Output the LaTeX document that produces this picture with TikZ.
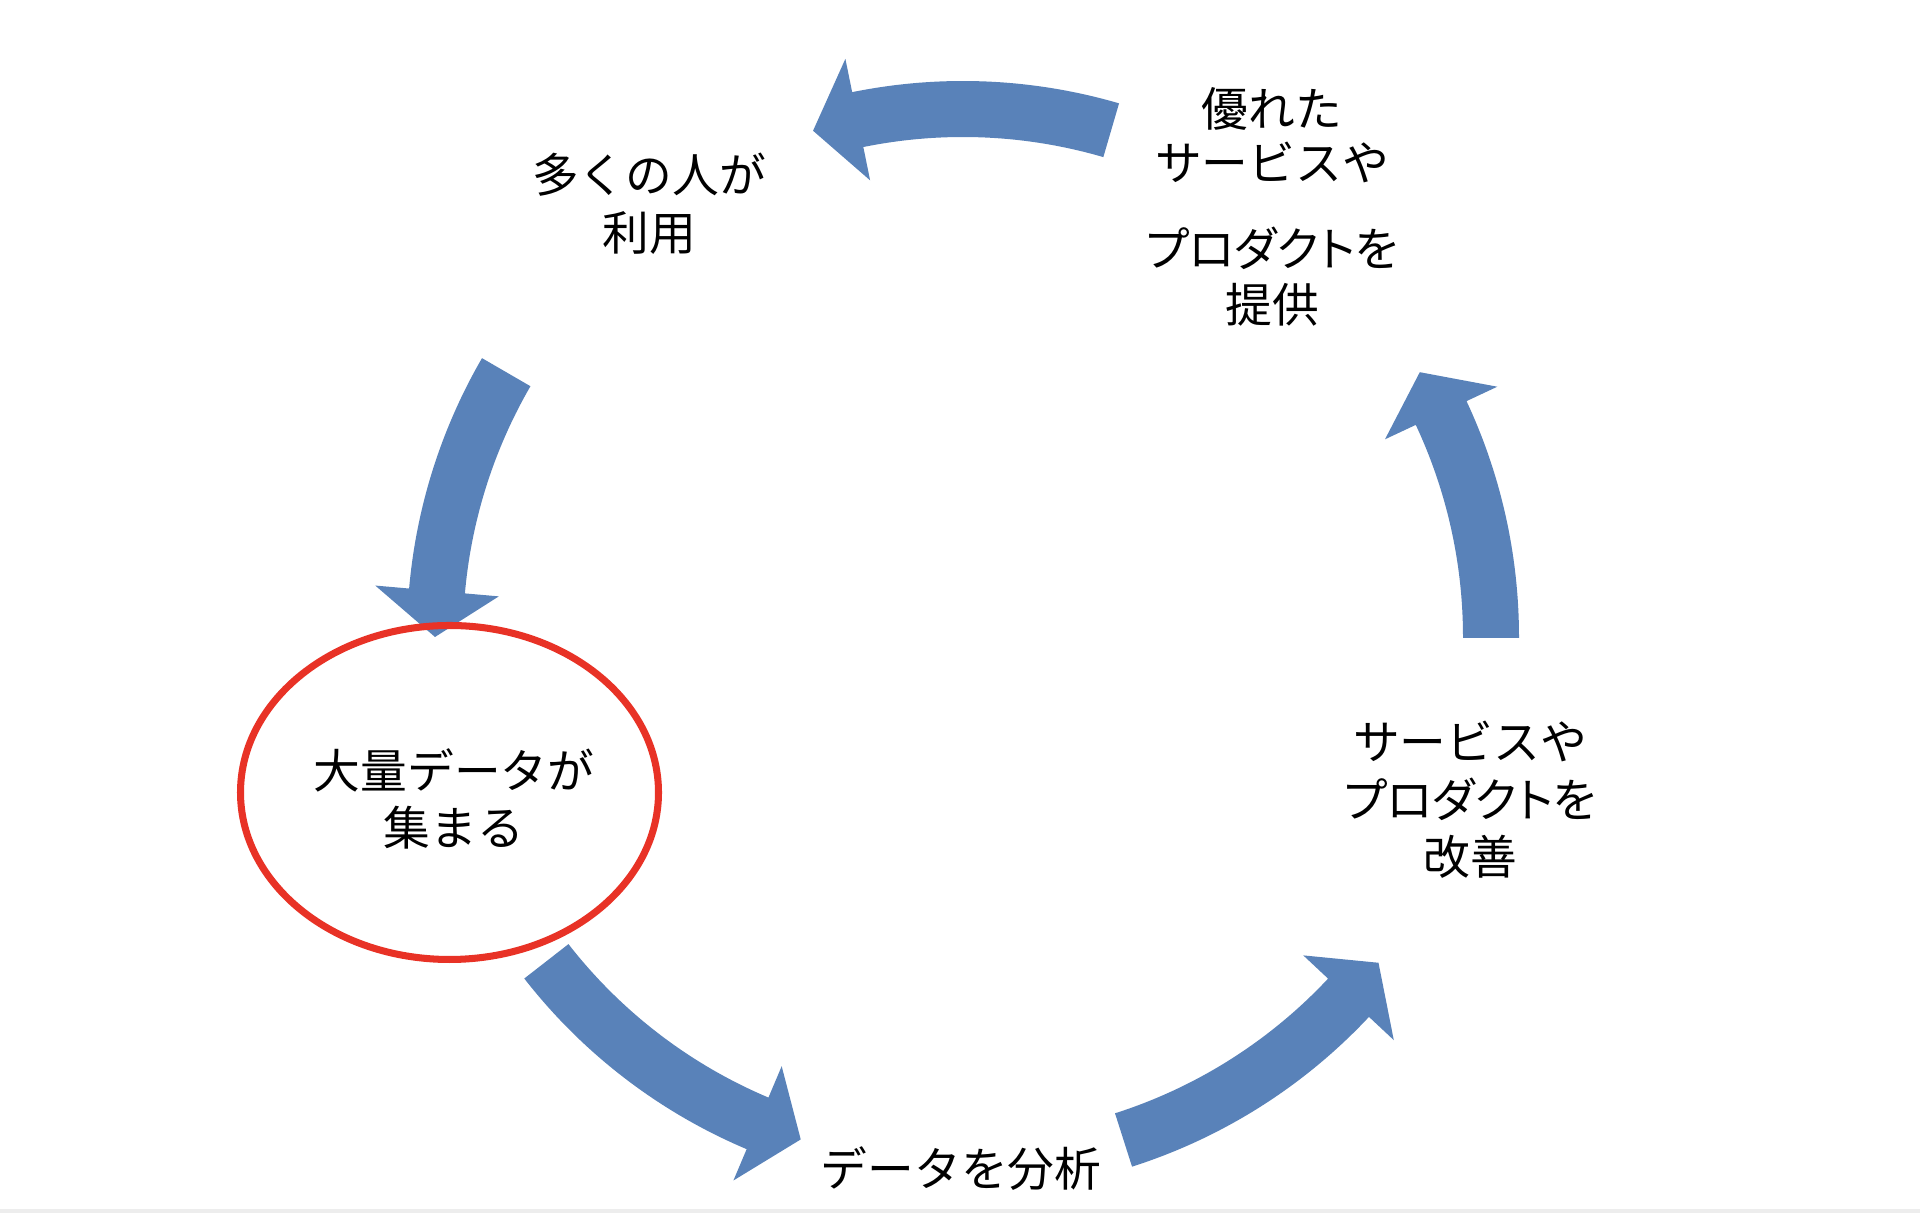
\documentclass[tikz,border=0pt]{standalone}
\usepackage{fontspec}
\setmainfont{Noto Sans CJK JP}
\usetikzlibrary{shapes.geometric}
\definecolor{arrowblue}{RGB}{89,130,185}
\definecolor{ringred}{RGB}{232,50,38}
\definecolor{stripgray}{RGB}{237,237,237}
\newcommand\cyclearrow[2]{%
  \pgfmathsetmacro\tipang{#2+5}%
  \fill[arrowblue] (#1:5.56) arc[start angle=#1, end angle=#2, radius=5.56]
    -- (#2:5.90) -- (\tipang:5.28) -- (#2:4.66) -- (#2:5.00)
    arc[start angle=#2, end angle=#1, radius=5.00] -- cycle;}
\newcommand\narrowkana[1]{{\addfontfeatures{RawFeature=+palt}#1}}
\begin{document}
\begin{tikzpicture}[
  label/.style={align=center, inner sep=0pt, font=\fontsize{13.3pt}{16.4pt}\selectfont},
  ring/.style={ellipse, draw=ringred, line width=2pt, minimum width=4.18cm, minimum height=3.34cm, inner sep=0pt}
]
\useasboundingbox (0,0) rectangle (19.2,12.13);
\fill[white] (0,0) rectangle (19.2,12.13);
\fill[stripgray] (0,0) rectangle (19.2,0.04);

\begin{scope}[shift={(9.63,5.76)}]
  \coordinate (hub) at (0,0);
  \cyclearrow{73.7}{101.5}
  \cyclearrow{149.9}{175.0}
  \cyclearrow{217.9}{247.1}
  \cyclearrow{287.7}{316.9}
  \cyclearrow{-0.1}{25.1}
\end{scope}

\node[ring] (ring) at (4.495,4.205) {};
\node[label] (data) at (4.54,4.14) {大量データが\\集まる};
\node[label] (users) at (6.49,10.09) {多くの人が\\利用};
\node[label] (provide) at (12.72,10.06) {優れた\\[-0.04cm]サービスや\\[0.29cm]\narrowkana{プロダクトを}\\[-0.02cm]提供};
\node[label] (improve) at (14.70,4.13) {サービスや\\\narrowkana{プロダクトを}\\改善};
\node[label] (analyze) at (9.61,0.44) {データを分析};
\end{tikzpicture}
\end{document}
